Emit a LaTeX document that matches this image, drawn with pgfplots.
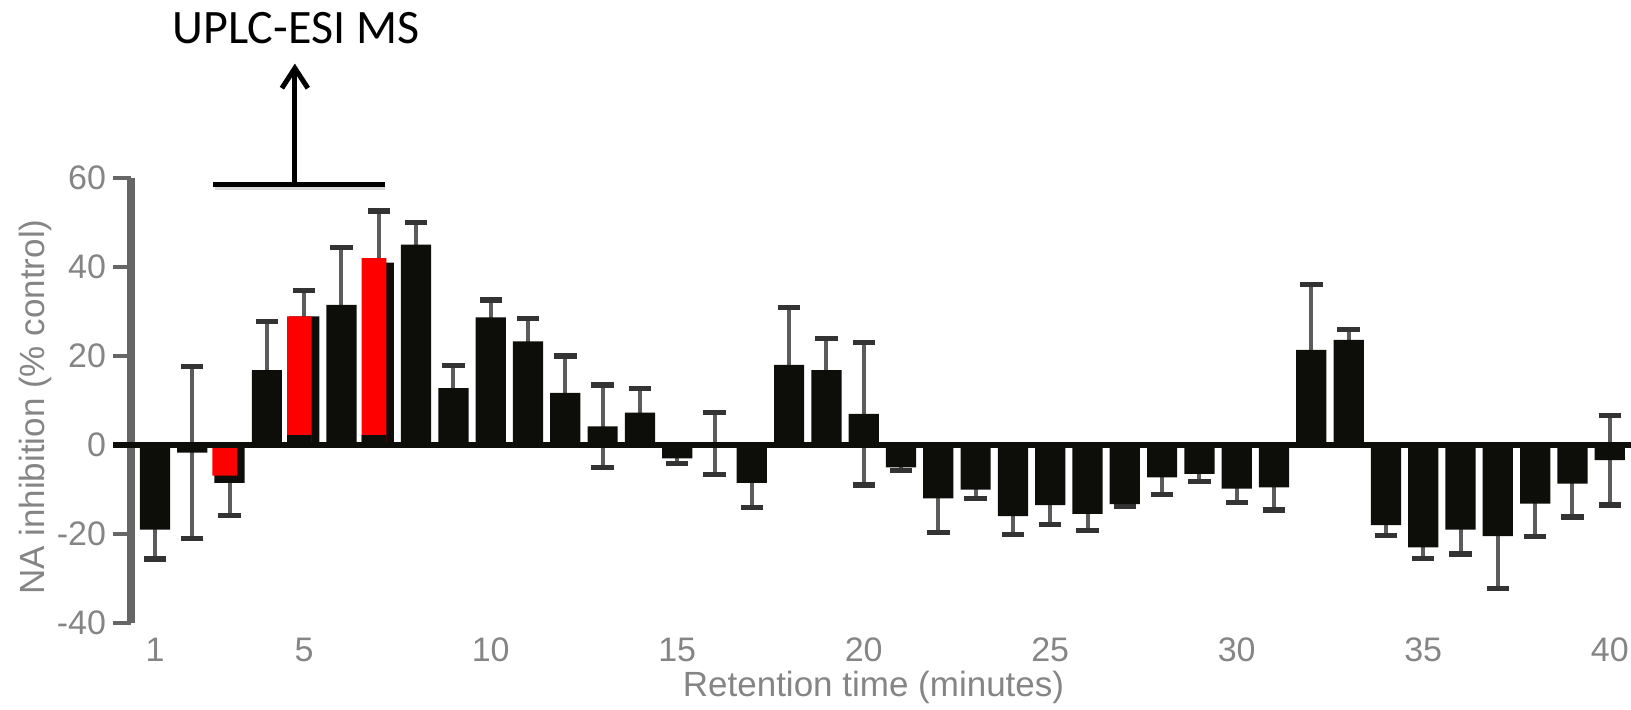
\documentclass[border=0pt]{standalone}
\usepackage{pgfplots}
\pgfplotsset{compat=1.18}
\usepackage{pgfplotstable}
\usepackage{fontspec}
\setmainfont{Liberation Sans}
\newfontfamily\titlefont{Carlito}
\usetikzlibrary{arrows.meta}
\definecolor{barblack}{rgb}{0.05,0.05,0.04}
\definecolor{axisgray}{rgb}{0.40,0.40,0.40}
\definecolor{errgray}{rgb}{0.36,0.36,0.36}
\definecolor{capgray}{rgb}{0.20,0.20,0.20}
\definecolor{labgray}{rgb}{0.52,0.52,0.52}
\pgfplotstableread{
x y e
1 -19 6.6
2 -1.7 19.3
3 -8.5 7.4
4 16.8 11
5 28.9 5.9
6 31.5 12.9
7 41 11.6
8 45 5
9 12.8 5
10 28.7 3.9
11 23.3 5.2
12 11.7 8.3
13 4.2 9.3
14 7.3 5.4
15 -3 1.2
16 0.3 7
17 -8.5 5.6
18 18 12.9
19 16.8 7.2
20 7 16
21 -5 0.8
22 -12 7.6
23 -10 2
24 -16 4.2
25 -13.5 4.4
26 -15.5 3.8
27 -13.3 0.6
28 -7.3 3.9
29 -6.5 1.7
30 -9.8 3.2
31 -9.5 5.1
32 21.4 14.6
33 23.6 2.4
34 -18 2.3
35 -23 2.5
36 -19 5.5
37 -20.5 11.8
38 -13.2 7.4
39 -8.7 7.5
40 -3.4 10.1
}\data
\begin{document}
\begin{tikzpicture}
\useasboundingbox (0,0) rectangle (815.5pt,354.5pt);
\begin{axis}[
  at={(65.5pt,43pt)}, anchor=south west,
  scale only axis, width=750pt, height=222.5pt,
  xmin=0.357, xmax=40.57, ymin=-40, ymax=60,
  clip=false,
  axis x line*=bottom, x axis line style={draw=none},
  axis y line*=left, y axis line style={line width=3.5pt, draw=axisgray},
  xtick={1,5,10,15,20,25,30,35,40},
  ytick={-40,-20,0,20,40,60},
  major x tick style={draw=none},
  major y tick style={line width=2pt, draw=axisgray},
  tick align=outside, major tick length=9pt,
  /pgf/number format/assume math mode=true,
  tick label style={font=\fontsize{17}{20}\selectfont, text=labgray},
  xticklabel style={anchor=center, yshift=-4.5pt},
  yticklabel style={anchor=east},
  xlabel={Retention time (minutes)},
  ylabel={NA inhibition (\% control)},
  label style={font=\fontsize{17.5}{20}\selectfont, text=labgray},
  xlabel style={at={(axis description cs:0.495,-0.144)}, anchor=center},
  ylabel style={at={(axis description cs:-0.064,0.485)}, anchor=center},
]
% error bars (behind the bars)
\addplot[draw=none, mark=none, forget plot,
  error bars/.cd, y dir=both, y explicit,
  error bar style={line width=2pt, draw=errgray},
  error mark options={rotate=90, line width=2.6pt, mark size=5.6pt, draw=capgray}]
  table[x=x, y=y, y error=e] {\data};
% black bars
\addplot[ybar, bar width=0.81, fill=barblack, draw=none, mark=none] table[x=x, y=y] {\data};
% red overlay bars
\addplot[ybar, bar width=0.66, fill=red, draw=none, mark=none] coordinates {(2.87,-6.9) (4.87,28.9) (6.87,42)};
\addplot[ybar, bar width=0.66, fill=barblack, draw=none, mark=none] coordinates {(4.87,2.2) (6.87,2.2)};
% zero line
\draw[line width=3pt, barblack] ([xshift=-9pt]axis cs:0.357,0) -- (axis cs:40.57,0);
% annotation
\draw[line width=2.6pt, black!25, opacity=0.6] (axis cs:2.6,57.8) -- (axis cs:7.17,57.8);
\draw[line width=2.5pt] (axis cs:2.555,58.5) -- (axis cs:7.17,58.5);
\draw[line width=2.5pt, -{Straight Barb[length=10pt,width=13pt]}] (axis cs:4.75,58.5) -- (axis cs:4.75,85.7);
\node[font=\titlefont\fontsize{24}{27}\selectfont] at (axis cs:4.78,93.6) {UPLC-ESI MS};
\end{axis}
\end{tikzpicture}
\end{document}
